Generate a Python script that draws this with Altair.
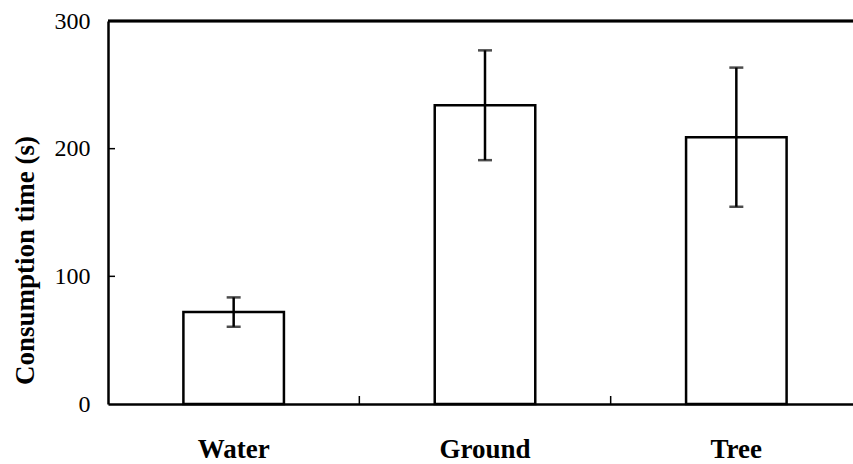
import altair as alt
import pandas as pd

categories = ["Water", "Ground", "Tree"]
means = [72, 234, 209]
errors = [11.5, 43, 54.5]
y_ticks = [0, 100, 200, 300]
inner_y_ticks = [100, 200]

df = pd.DataFrame({
    "cat": categories,
    "mean": means,
    "lo": [m - e for m, e in zip(means, errors)],
    "hi": [m + e for m, e in zip(means, errors)],
})
sep = pd.DataFrame({"cat": categories[1:]})
yt = pd.DataFrame({"v": inner_y_ticks})

FONT = "Liberation Serif"
W, H = 745, 383
XR = 754  # band range extends slightly past the visible right edge, as in the reference

xscale = alt.Scale(domain=categories, paddingInner=0, paddingOuter=0, range=[0, XR])
yscale = alt.Scale(domain=[0, 300], nice=False, zero=True)

x_enc = alt.X("cat:N", scale=xscale, sort=categories,
              axis=alt.Axis(title=None, labelAngle=0, ticks=False, labelPadding=32,
                            labelFont=FONT, labelFontSize=27, labelFontWeight="bold",
                            labelColor="black", domainColor="black", domainWidth=2.5))
y_enc = alt.Y("mean:Q", scale=yscale,
              axis=alt.Axis(title="Consumption time (s)", values=y_ticks, ticks=False,
                            grid=False, labelPadding=18, labelFont=FONT, labelFontSize=24,
                            labelColor="black", domainColor="black", domainWidth=2.5,
                            titleFont=FONT, titleFontSize=27, titleFontWeight="bold",
                            titleColor="black", titleX=-83, titleY=239,
                            titleAlign="center", titleBaseline="middle", titleAngle=270))

bars = alt.Chart(df).mark_bar(fill="white", stroke="black", strokeWidth=2.5,
                              width=alt.RelativeBandSize(0.4)).encode(x=x_enc, y=y_enc)

err = alt.Chart(df).mark_rule(color="black", strokeWidth=2.5).encode(
    x=alt.X("cat:N", scale=xscale, sort=categories),
    y=alt.Y("lo:Q", scale=yscale), y2="hi:Q")
cap_hi = alt.Chart(df).mark_tick(color="black", thickness=2.5, size=14, orient="horizontal").encode(
    x=alt.X("cat:N", scale=xscale, sort=categories), y=alt.Y("hi:Q", scale=yscale))
cap_lo = alt.Chart(df).mark_tick(color="black", thickness=2.5, size=14, orient="horizontal").encode(
    x=alt.X("cat:N", scale=xscale, sort=categories), y=alt.Y("lo:Q", scale=yscale))

xticks = alt.Chart(sep).mark_rule(color="black", strokeWidth=1.5).encode(
    x=alt.X("cat:N", scale=xscale, sort=categories, bandPosition=0),
    y=alt.value(H), y2=alt.value(H - 8))
ytk = alt.Chart(yt).mark_rule(color="black", strokeWidth=1.5).encode(
    y=alt.Y("v:Q", scale=yscale), x=alt.value(0), x2=alt.value(7))
top = alt.Chart(df).mark_rule(color="black", strokeWidth=2.5).encode(
    x=alt.value(0), x2=alt.value(XR), y=alt.value(0))

chart = alt.layer(bars, err, cap_hi, cap_lo, xticks, ytk, top).properties(
    width=W, height=H,
    autosize=alt.AutoSizeParams(type="none"),
    padding={"left": 108, "top": 21, "right": 0, "bottom": 60},
).configure_view(stroke=None).configure(background="white")

chart.save("out.html", embed_options={"renderer": "svg", "actions": False})
